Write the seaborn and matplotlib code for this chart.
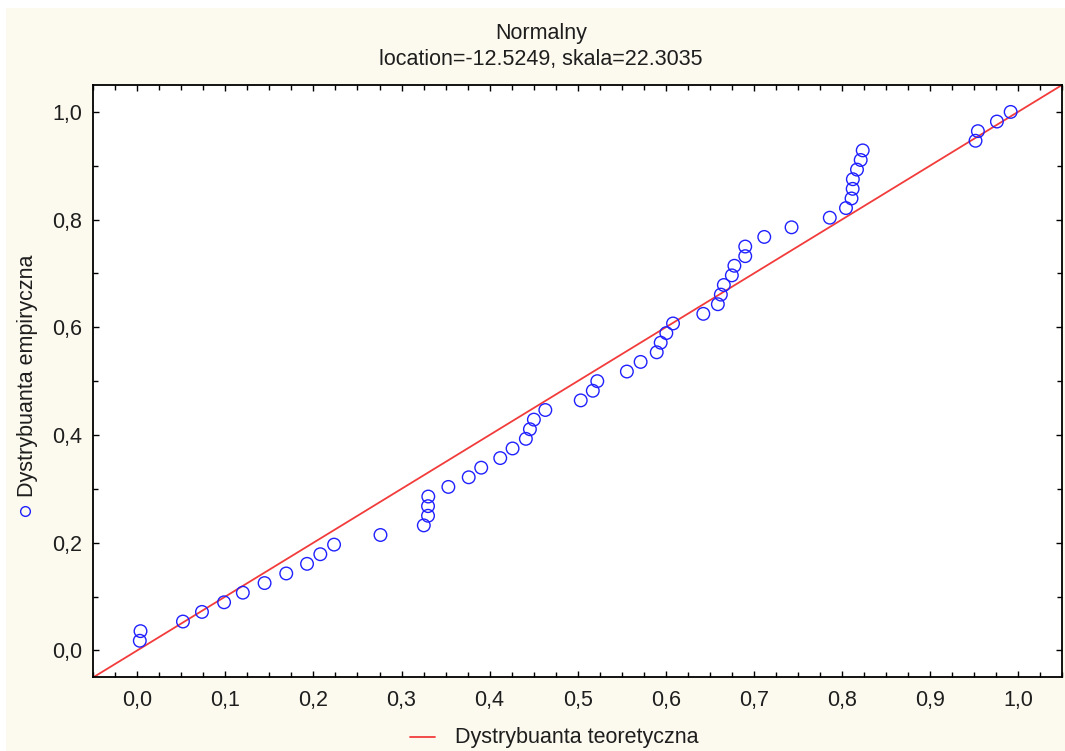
import numpy as np
import pandas as pd
import matplotlib
matplotlib.use("Agg")
import matplotlib.pyplot as plt
from matplotlib.lines import Line2D
from matplotlib.patches import Rectangle
from matplotlib.ticker import MultipleLocator
import seaborn as sns

# ---- data ----
theoretical = [0.0028, 0.0036, 0.0518, 0.0734, 0.0985, 0.1198, 0.1445, 0.1691,
               0.1927, 0.2078, 0.2234, 0.2761, 0.3253, 0.3301, 0.3301, 0.3304,
               0.3532, 0.3763, 0.3905, 0.4121, 0.4261, 0.4412, 0.4458, 0.4503,
               0.4633, 0.5035, 0.5172, 0.5223, 0.5559, 0.5715, 0.5898, 0.5943,
               0.6007, 0.6083, 0.6427, 0.6592, 0.6626, 0.6660, 0.6751, 0.6780,
               0.6903, 0.6903, 0.7119, 0.7429, 0.7863, 0.8047, 0.8110, 0.8123,
               0.8125, 0.8172, 0.8214, 0.8237, 0.9518, 0.9545, 0.9761, 0.9917]
n_obs = 56
empirical = [k / n_obs for k in range(1, n_obs + 1)]
line_x = [-0.05, 1.05]
line_y = [-0.05, 1.05]
x_ticks = [0.0, 0.1, 0.2, 0.3, 0.4, 0.5, 0.6, 0.7, 0.8, 0.9, 1.0]
x_labels = ["0,0", "0,1", "0,2", "0,3", "0,4", "0,5", "0,6", "0,7", "0,8", "0,9", "1,0"]
y_ticks = [0.0, 0.2, 0.4, 0.6, 0.8, 1.0]
y_labels = ["0,0", "0,2", "0,4", "0,6", "0,8", "1,0"]
title_lines = ["Normalny", "location=-12.5249, skala=22.3035"]
x_legend = "Dystrybuanta teoretyczna"
y_legend = "Dystrybuanta empiryczna"

sns.set_style("white")
plt.rcParams["font.family"] = ["Liberation Sans", "DejaVu Sans"]
TXT = "#1e1e1e"
FS = 15.5
BEIGE = "#FCF9EE"
BLUE = "#2020FF"
RED = "#F23C3C"

W, H = 1065, 751
fig = plt.figure(figsize=(W / 100, H / 100), dpi=100, facecolor="white")
fig.add_artist(Rectangle((6 / W, 0), 1 - 6 / W, 1 - 8 / H, transform=fig.transFigure,
                         facecolor=BEIGE, edgecolor="none", zorder=-10))

ax = fig.add_axes([93.3 / W, 1 - 677.3 / H, (1062 - 93.3) / W, (677.3 - 85) / H])
ax.set_facecolor("white")

df_pts = pd.DataFrame({"t": theoretical, "e": empirical})
df_line = pd.DataFrame({"x": line_x, "y": line_y})

sns.lineplot(data=df_line, x="x", y="y", ax=ax, color=RED, linewidth=1.3, zorder=2)
sns.scatterplot(data=df_pts, x="t", y="e", ax=ax, marker="o", s=82,
                facecolor="none", edgecolor=BLUE, linewidth=1.0, zorder=3)

ax.set_xlim(-0.05, 1.05)
ax.set_ylim(-0.05, 1.05)
ax.set_xticks(x_ticks)
ax.set_xticklabels(x_labels)
ax.set_yticks(y_ticks)
ax.set_yticklabels(y_labels)
ax.xaxis.set_minor_locator(MultipleLocator(0.025))
ax.yaxis.set_minor_locator(MultipleLocator(0.1))
ax.tick_params(which="both", direction="in", top=True, right=True, bottom=True, left=True,
               color="black", width=1.0, labelsize=FS, labelcolor=TXT)
ax.tick_params(which="major", length=4.5)
ax.tick_params(which="minor", length=3.5)
ax.tick_params(axis="x", which="major", pad=9)
ax.tick_params(axis="y", which="major", pad=8)
ax.set_xlabel("")
ax.set_ylabel("")
for sp in ax.spines.values():
    sp.set_visible(True)
    sp.set_color("black")
    sp.set_linewidth(1.3)

# title
fig.text(541 / W, 1 - 33 / H, title_lines[0], ha="center", va="center", fontsize=FS, color=TXT)
fig.text(541 / W, 1 - 59 / H, title_lines[1], ha="center", va="center", fontsize=FS, color=TXT)

# bottom legend (theoretical line)
fig.add_artist(Line2D([410 / W, 435 / W], [1 - 737 / H, 1 - 737 / H], transform=fig.transFigure,
                      color=RED, linewidth=1.3))
fig.text(455 / W, 1 - 737 / H, x_legend, ha="left", va="center", fontsize=FS, color=TXT)

# left legend (empirical points)
fig.add_artist(Line2D([25 / W], [1 - 511 / H], transform=fig.transFigure, marker="o",
                      markersize=7, markerfacecolor="none", markeredgecolor=BLUE,
                      markeredgewidth=1.0, linestyle="none"))
fig.text(28 / W, 1 - 497 / H, y_legend, ha="center", va="bottom", rotation=90,
         fontsize=FS, color=TXT)

fig.savefig("out.png", dpi=100, facecolor=fig.get_facecolor())
